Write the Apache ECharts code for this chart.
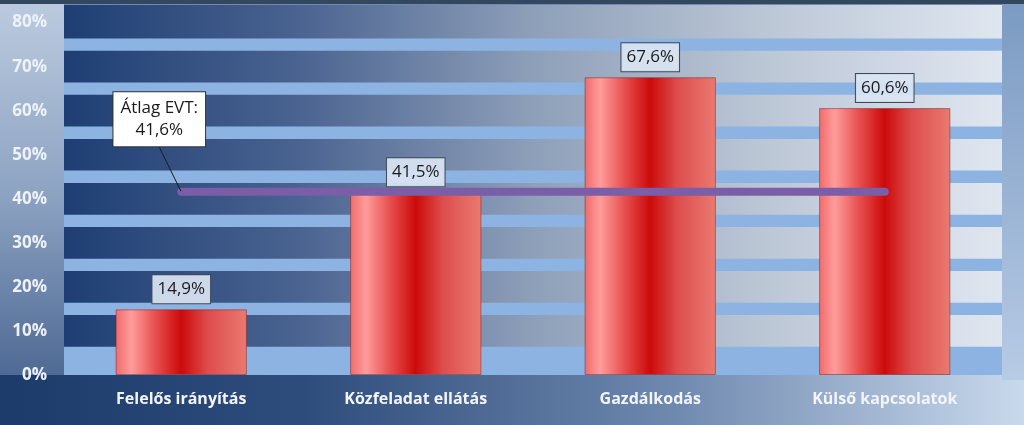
<!DOCTYPE html>
<html>
<head>
<meta charset="utf-8">
<script src="https://cdn.jsdelivr.net/npm/echarts@6/dist/echarts.min.js"></script>
<style>html,body{margin:0;padding:0;}#c{width:1024px;height:425px;}</style>
</head>
<body>
<div id="c"></div>
<script>
const categories = ['Felelős irányítás', 'Közfeladat ellátás', 'Gazdálkodás', 'Külső kapcsolatok'];
const values = [14.9, 41.5, 67.6, 60.6];
const averageValue = 41.6;
const averageLabel = 'Átlag EVT:';
const yTicks = [0, 10, 20, 30, 40, 50, 60, 70, 80];

const fmt = v => v.toFixed(1).replace('.', ',') + '%';
const chart = echarts.init(document.getElementById('c'));

// decorative light stripes between grid ticks
const stripes = [[{yAxis: 0}, {yAxis: 6.4}]];
for (let t = 10; t < 80; t += 10) stripes.push([{yAxis: t + 3.6}, {yAxis: t + 6.4}]);

const barGradient = new echarts.graphic.LinearGradient(0, 0, 1, 0, [
  {offset: 0, color: '#f06a6a'},
  {offset: 0.12, color: '#ff9c9c'},
  {offset: 0.3, color: '#e85050'},
  {offset: 0.5, color: '#cc0a0a'},
  {offset: 0.7, color: '#dd4c4c'},
  {offset: 1, color: '#ea7a70'}
]);

const avgData = categories.map((c, i) => i === 0 ? {
  value: averageValue,
  label: {
    show: true,
    formatter: averageLabel + '\n' + fmt(averageValue),
    position: 'top', distance: 0,
    backgroundColor: '#ffffff', borderColor: '#333333', borderWidth: 1,
    padding: [5, 7], fontSize: 17, lineHeight: 22, color: '#1a1a1a',
    fontFamily: 'Open Sans'
  }
} : averageValue);

chart.setOption({
  animation: false,
  backgroundColor: '#6f8bb3',
  graphic: [
    {type: 'rect', z: -10, shape: {x: 0, y: 0, width: 64, height: 380},
     style: {fill: new echarts.graphic.LinearGradient(0, 0, 0, 1, [
       {offset: 0, color: '#bccbdf'}, {offset: 0.5, color: '#8ea4c3'}, {offset: 1, color: '#4d6893'}])}},
    {type: 'rect', z: -10, shape: {x: 0, y: 375, width: 1024, height: 50},
     style: {fill: new echarts.graphic.LinearGradient(0, 0, 1, 0, [
       {offset: 0, color: '#1d3b6a'}, {offset: 0.3, color: '#2f4d7c'}, {offset: 0.65, color: '#6d87ad'}, {offset: 1, color: '#c9d9ed'}])}},
    {type: 'rect', z: -10, shape: {x: 1002, y: 0, width: 22, height: 380},
     style: {fill: new echarts.graphic.LinearGradient(0, 0, 0, 1, [
       {offset: 0, color: '#7b9ac2'}, {offset: 1, color: '#b7cbe5'}])}},
    {type: 'rect', z: -10, shape: {x: 0, y: 0, width: 1024, height: 4},
     style: {fill: '#33475f'}}
  ],
  grid: {
    left: 64, right: 22, top: 5, bottom: 50,
    show: true, borderWidth: 0,
    backgroundColor: new echarts.graphic.LinearGradient(0, 0, 1, 0, [
      {offset: 0, color: '#1e3e73'}, {offset: 0.25, color: '#4a6390'},
      {offset: 0.5, color: '#8e9fb9'}, {offset: 0.75, color: '#bcc7d6'}, {offset: 1, color: '#dfe6f0'}])
  },
  xAxis: {
    type: 'category', data: categories,
    axisLine: {show: false}, axisTick: {show: false},
    axisLabel: {color: '#f2f5fa', fontWeight: 'bold', fontSize: 16, fontFamily: 'Open Sans', margin: 16}
  },
  yAxis: {
    type: 'value', min: 0, max: 84, interval: 10,
    splitLine: {show: false}, axisLine: {show: false}, axisTick: {show: false},
    axisLabel: {
      color: '#eef2f8', fontWeight: 'bold', fontSize: 17, fontFamily: 'Open Sans', margin: 17,
      formatter: v => yTicks.includes(v) ? v + '%' : '',
      showMaxLabel: false
    }
  },
  series: [
    {
      type: 'bar', data: values, barWidth: '56%', z: 2,
      itemStyle: {color: barGradient, borderColor: 'rgba(120,40,40,0.5)', borderWidth: 1},
      label: {
        show: true, position: 'top', distance: 6,
        formatter: p => fmt(p.value),
        backgroundColor: 'rgba(218,229,243,0.92)', borderColor: '#3d4a5a', borderWidth: 1,
        padding: [3, 5], fontSize: 17, lineHeight: 22, color: '#1a1a1a', fontFamily: 'Open Sans'
      },
      markArea: {
        silent: true, z: 1,
        itemStyle: {color: '#8db3e2'},
        data: stripes
      }
    },
    {
      type: 'line', data: avgData, z: 5,
      symbol: 'circle', symbolSize: 1, showSymbol: true,
      itemStyle: {color: '#7b5ea8'},
      lineStyle: {color: '#7b5ea8', width: 8, cap: 'round'},
      labelLine: {show: true, lineStyle: {color: '#1a1a1a', width: 1}},
      labelLayout: p => p.dataIndex === 0 ? {dx: -22, dy: -45} : {}
    }
  ]
});
</script>
</body>
</html>
